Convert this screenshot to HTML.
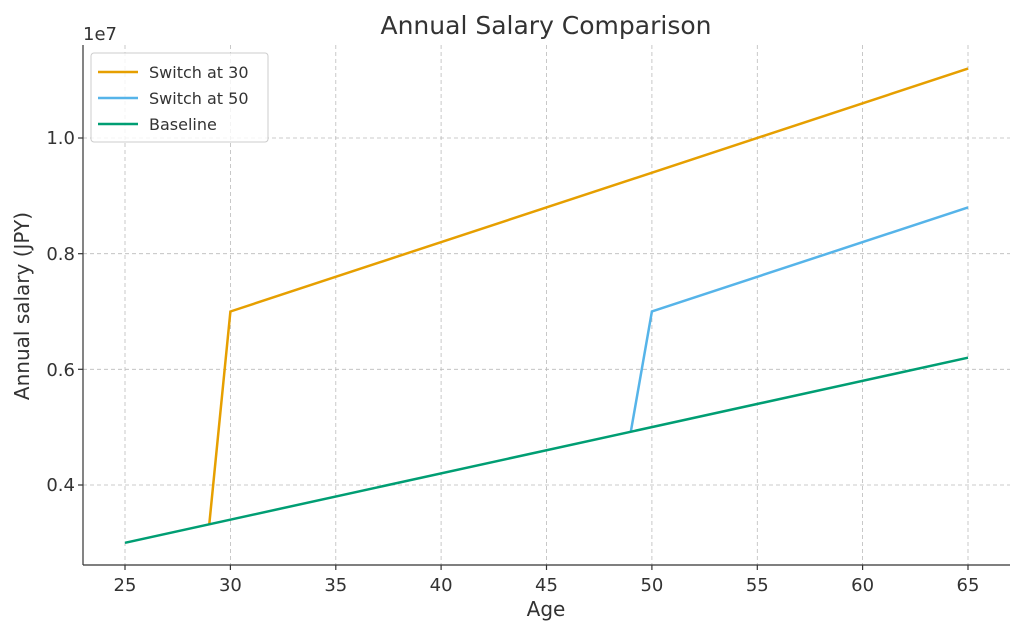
<!DOCTYPE html>
<html><head><style>
body{margin:0;background:#fff;}
svg text{font-family:"DejaVu Sans","Liberation Sans",sans-serif;fill:#333;}
</style></head><body>
<svg width="1024" height="635" xmlns="http://www.w3.org/2000/svg">
<rect width="1024" height="635" fill="#fff"/>
<g stroke="#bbb" stroke-width="0.8" stroke-dasharray="4,3">
<line x1="125" y1="45" x2="125" y2="565"/>
<line x1="230.4" y1="45" x2="230.4" y2="565"/>
<line x1="335.8" y1="45" x2="335.8" y2="565"/>
<line x1="441.1" y1="45" x2="441.1" y2="565"/>
<line x1="546.5" y1="45" x2="546.5" y2="565"/>
<line x1="651.9" y1="45" x2="651.9" y2="565"/>
<line x1="757.3" y1="45" x2="757.3" y2="565"/>
<line x1="862.6" y1="45" x2="862.6" y2="565"/>
<line x1="968" y1="45" x2="968" y2="565"/>
<line x1="83" y1="485" x2="1010" y2="485"/>
<line x1="83" y1="369.3" x2="1010" y2="369.3"/>
<line x1="83" y1="253.7" x2="1010" y2="253.7"/>
<line x1="83" y1="138" x2="1010" y2="138"/>
</g>
<g stroke="#333" stroke-width="1.2">
<line x1="83" y1="45" x2="83" y2="565"/>
<line x1="83" y1="565" x2="1010" y2="565"/>
<line x1="125" y1="565" x2="125" y2="570"/><line x1="230.4" y1="565" x2="230.4" y2="570"/>
<line x1="335.8" y1="565" x2="335.8" y2="570"/><line x1="441.1" y1="565" x2="441.1" y2="570"/>
<line x1="546.5" y1="565" x2="546.5" y2="570"/><line x1="651.9" y1="565" x2="651.9" y2="570"/>
<line x1="757.3" y1="565" x2="757.3" y2="570"/><line x1="862.6" y1="565" x2="862.6" y2="570"/>
<line x1="968" y1="565" x2="968" y2="570"/>
<line x1="78" y1="485" x2="83" y2="485"/><line x1="78" y1="369.3" x2="83" y2="369.3"/>
<line x1="78" y1="253.7" x2="83" y2="253.7"/><line x1="78" y1="138" x2="83" y2="138"/>
</g>
<g font-size="18" text-anchor="middle">
<text x="125" y="591">25</text><text x="230.4" y="591">30</text><text x="335.8" y="591">35</text>
<text x="441.1" y="591">40</text><text x="546.5" y="591">45</text><text x="651.9" y="591">50</text>
<text x="757.3" y="591">55</text><text x="862.6" y="591">60</text><text x="968" y="591">65</text>
</g>
<g font-size="18" text-anchor="end">
<text x="75" y="491">0.4</text><text x="75" y="376">0.6</text><text x="75" y="260">0.8</text><text x="75" y="144">1.0</text>
</g>
<text x="83" y="40" font-size="18">1e7</text>
<text x="546" y="616" font-size="20" text-anchor="middle">Age</text>
<text x="29" y="306" font-size="20" text-anchor="middle" transform="rotate(-90 29 306)">Annual salary (JPY)</text>
<text x="546" y="34" font-size="25" text-anchor="middle">Annual Salary Comparison</text>
<g fill="none" stroke-width="2.5">
<polyline stroke="#E69F00" points="209.3,524 230.4,311.5 968,68.6"/>
<polyline stroke="#56B4E9" points="630.8,431.8 651.9,311.5 968,207.4"/>
<polyline stroke="#009E73" points="125,542.8 968,357.7"/>
</g>
<rect x="91" y="53" width="177" height="89" rx="3" fill="#fff" fill-opacity="0.8" stroke="#ccc"/>
<line x1="98" y1="72" x2="138" y2="72" stroke="#E69F00" stroke-width="2.5"/>
<line x1="98" y1="98" x2="138" y2="98" stroke="#56B4E9" stroke-width="2.5"/>
<line x1="98" y1="124" x2="138" y2="124" stroke="#009E73" stroke-width="2.5"/>
<g font-size="16"><text x="149" y="78">Switch at 30</text><text x="149" y="104">Switch at 50</text><text x="149" y="130">Baseline</text></g>
</svg>
</body></html>
